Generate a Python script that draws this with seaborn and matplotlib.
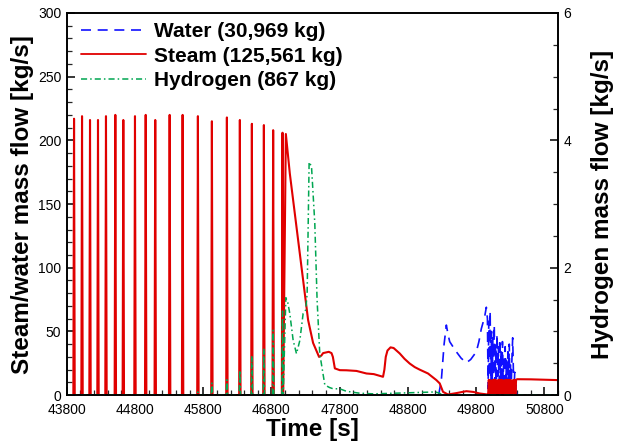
import matplotlib
matplotlib.use("Agg")
import matplotlib.pyplot as plt
import numpy as np
import pandas as pd
import seaborn as sns
from matplotlib.ticker import MultipleLocator
from matplotlib.lines import Line2D

# --- data --------------------------------------------------------------
# steam spikes (time [s], peak steam flow [kg/s], hydrogen at the same spike [kg/s])
spike_t = [43907, 44024, 44141, 44258, 44375, 44512, 44629, 44800, 44957, 45097,
           45308, 45498, 45722, 45927, 46147, 46337, 46513, 46689, 46825, 46962]
spike_steam = [217, 219, 216, 216, 219, 220, 216, 219, 220, 216,
               220, 220, 219, 215, 218, 216, 213, 212, 208, 206]
spike_h2 = [0, 0, 0, 0, 0, 0, 0, 0, 0, 0,
            0, 0, 0.05, 0.19, 0.24, 0.39, 0.62, 0.73, 1.02, 1.32]

# steam after the last spike
steam_t = [47011, 47069, 47167, 47264, 47337, 47410, 47498, 47530, 47557, 47640,
           47680, 47700, 47729, 47802, 47900, 48046, 48192, 48300, 48435, 48455,
           48475, 48500, 48545, 48590, 48680, 48750, 48826, 48900, 48973, 49094,
           49217, 49266, 49314, 49387, 49500, 49656, 49760, 49851, 49965]
steam_v = [205, 174, 132, 90, 59, 41, 30, 31, 33, 34,
           33, 30, 21, 19.6, 19.5, 19, 17, 16.5, 14.4, 20,
           30, 35, 37.5, 37, 32.7, 28.5, 24.8, 22, 20, 17,
           11.8, 9.2, 2.6, 0.5, 1.5, 3.1, 2.5, 1.3, 0.5]
# rapid steam oscillation 49975-50385 (10 s steps), then nearly flat
steam_osc = [0, 12, 1, 12, 0, 11, 2, 12, 0, 12, 3, 12, 0, 11, 1, 12, 0, 12, 2, 12, 0,
             12, 0, 11, 1, 12, 0, 12, 2, 12, 0, 12, 1, 12, 0, 11, 0, 12, 2, 12, 0, 12]
steam_tail_t = [50400, 50600, 50800, 51000]
steam_tail_v = [12.5, 12.4, 12.1, 11.8]

# water
water_t = [49250, 49290, 49330, 49363, 49390, 49412, 49460, 49510, 49580, 49656,
           49720, 49802, 49840, 49875, 49924, 49949, 49965]
water_v = [0, 12, 40, 55, 47, 42, 38, 34, 29, 25.4,
           28, 34, 42, 52, 61.5, 69, 60]
water_osc = [5, 58, 8, 66, 3, 50, 12, 45, 2, 55, 10, 40, 4, 48, 15, 38, 3, 44, 8, 35, 2, 42,
             12, 30, 5, 38, 9, 28, 2, 34, 6, 40, 3, 25, 10, 30, 45, 20, 5, 18, 0, 8, 0, 0]

# hydrogen after the last spike
h2_t = [47011, 47040, 47069, 47118, 47167, 47216, 47264, 47303, 47323, 47340,
        47352, 47387, 47435, 47469, 47508, 47582, 47650, 47703, 47800, 47900,
        48094, 48300, 48600, 48900, 49200, 49266, 49300, 51000]
h2_v = [1.53, 1.45, 1.28, 0.86, 0.65, 0.86, 1.28, 1.34, 1.6, 2.8,
        3.66, 3.59, 2.7, 1.49, 0.65, 0.16, 0.12, 0.1, 0.1, 0.06,
        0.03, 0.02, 0.03, 0.04, 0.05, 0.03, 0, 0]

labels = ["Water (30,969 kg)", "Steam (125,561 kg)", "Hydrogen (867 kg)"]
colors = ["#1010ff", "#e00000", "#00a651"]

# --- build series ---------------------------------------------------------
def spikes(times, peaks, half=10):
    t, v = [43800], [0]
    for ti, pi in zip(times, peaks):
        t += [ti - half, ti, ti + half]
        v += [0, pi, 0]
    return t, v

st, sv = spikes(spike_t, spike_steam)
osc_t = list(49975 + 10 * np.arange(len(steam_osc)))
steam = pd.DataFrame({"t": st + steam_t + osc_t + steam_tail_t,
                      "v": sv + steam_v + steam_osc + steam_tail_v})

wosc_t = list(49975 + 10 * np.arange(len(water_osc)))
water = pd.DataFrame({"t": water_t + wosc_t, "v": water_v + water_osc})

ht, hv = spikes(spike_t, spike_h2)
h2 = pd.DataFrame({"t": ht + h2_t, "v": hv + h2_v})

# --- plot -----------------------------------------------------------------
sns.set_theme(style="ticks")
plt.rcParams["font.family"] = ["Liberation Sans", "DejaVu Sans"]
plt.rcParams["text.color"] = "black"
plt.rcParams["axes.labelcolor"] = "black"

fig, ax = plt.subplots(figsize=(6.18, 4.48), dpi=100)
fig.subplots_adjust(left=0.108, right=0.903, bottom=0.118, top=0.971)
ax2 = ax.twinx()

sns.lineplot(data=water, x="t", y="v", ax=ax, color=colors[0], lw=1.2,
             linestyle=(0, (6, 4)), estimator=None, sort=False)
sns.lineplot(data=steam, x="t", y="v", ax=ax, color=colors[1], lw=1.5,
             estimator=None, sort=False)
sns.lineplot(data=h2, x="t", y="v", ax=ax2, color=colors[2], lw=1.1,
             linestyle=(0, (4, 2, 1, 2)), estimator=None, sort=False)

ax.set_xlim(43800, 51000)
ax.set_ylim(0, 300)
ax2.set_ylim(0, 6)
ax.set_xticks(np.arange(43800, 51000, 1000))
ax.xaxis.set_minor_locator(MultipleLocator(200))
ax.yaxis.set_major_locator(MultipleLocator(50))
ax.yaxis.set_minor_locator(MultipleLocator(10))
ax2.yaxis.set_major_locator(MultipleLocator(2))
ax2.yaxis.set_minor_locator(MultipleLocator(0.5))

for a in (ax, ax2):
    a.tick_params(which="major", direction="in", length=6, width=1.1,
                  labelsize=10, pad=4, colors="black")
    a.tick_params(which="minor", direction="in", length=3.5, width=0.9)
    for sp in a.spines.values():
        sp.set_visible(True)
        sp.set_linewidth(1.2)
        sp.set_color("black")
ax.tick_params(which="both", top=False, right=False)
ax.tick_params(axis="x", pad=5.5)
ax2.tick_params(which="both", left=False, right=True, labelright=True)

lab_font = dict(fontsize=17.5, fontweight="bold", color="black")
ax.set_xlabel("Time [s]", labelpad=1, **lab_font)
ax.set_ylabel("Steam/water mass flow [kg/s]", labelpad=3, **lab_font)
ax2.set_ylabel("Hydrogen mass flow [kg/s]", labelpad=14, **lab_font)

handles = [Line2D([], [], color=colors[0], lw=1.2, linestyle=(0, (6, 4))),
           Line2D([], [], color=colors[1], lw=1.3),
           Line2D([], [], color=colors[2], lw=1.1, linestyle=(0, (4, 2, 1, 2)))]
leg = ax.legend(handles, labels, loc="upper left", bbox_to_anchor=(0.012, 0.997),
                frameon=False, borderaxespad=0, handlelength=3.1, handletextpad=0.4,
                labelspacing=0.25, prop={"size": 15, "weight": "bold"})
for txt in leg.get_texts():
    txt.set_color("black")

fig.savefig("out.png", dpi=100)
